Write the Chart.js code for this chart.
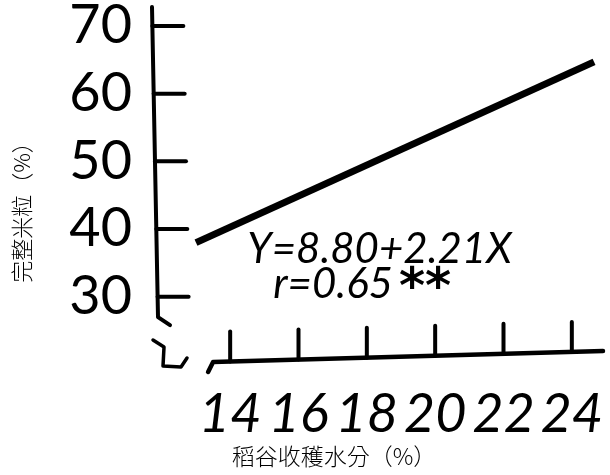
<!DOCTYPE html>
<html>
<head>
<meta charset="utf-8">
<script src="https://cdn.jsdelivr.net/npm/chart.js@4"></script>
<style>
  html, body { margin: 0; padding: 0; background: #fff; }
  #wrap { width: 610px; height: 475px; }
</style>
</head>
<body>
<div id="wrap"><canvas id="c" width="610" height="475"></canvas></div>
<script>
// Harvest moisture (%) vs. whole-kernel ratio (%)
const moistureTicks = [14, 16, 18, 20, 22, 24];
const wholeKernelTicks = [30, 40, 50, 60, 70];
const fitLineX = [13.0, 24.65];
const fitLineY = [38.0, 64.7];
const equationLabel = 'Y=8.80+2.21X';
const corrLabel = 'r=0.65';
const signifLabel = '**';
const xTitle = '稻谷收穫水分（%）';
const yTitle = '完整米粒（%）';

const INK = '#000';
const LETTERING = 'Lato';

// Hand-lettered axis frame: ticks point inward, axes with small break marks
const inkFrame = {
  id: 'inkFrame',
  afterDraw(chart) {
    const { ctx, chartArea: a, scales: { x, y } } = chart;
    ctx.save();
    ctx.strokeStyle = INK;
    ctx.fillStyle = INK;
    ctx.lineCap = 'round';
    ctx.lineJoin = 'round';

    // vertical axis (slightly leaning)
    const yTop = a.top;
    const yBot = y.getPixelForValue(27.0);
    const axX = py => a.left - 3 + (py - yTop) / (yBot - yTop) * 6;
    ctx.lineWidth = 4;
    ctx.beginPath();
    ctx.moveTo(axX(yTop), yTop);
    ctx.lineTo(axX(yBot), yBot);
    ctx.lineTo(axX(yBot) + 12, yBot + 8);
    ctx.stroke();
    wholeKernelTicks.forEach(v => {
      const py = y.getPixelForValue(v);
      ctx.beginPath();
      ctx.moveTo(axX(py), py);
      ctx.lineTo(axX(py) + 31, py);
      ctx.stroke();
    });

    // axis break mark
    ctx.lineWidth = 3.5;
    ctx.beginPath();
    ctx.moveTo(a.left - 2, yBot + 23);
    ctx.lineTo(a.left + 9, yBot + 30);
    ctx.lineTo(a.left + 8, yBot + 49);
    ctx.lineTo(a.left + 26, yBot + 50);
    ctx.lineTo(a.left + 32, yBot + 41);
    ctx.stroke();

    // horizontal axis (slightly rising)
    const xL = x.getPixelForValue(13.5);
    const xR = a.right - 3;
    const axY = px => a.bottom + 5 - (px - xL) / (xR - xL) * 11;
    ctx.lineWidth = 4.5;
    ctx.beginPath();
    ctx.moveTo(xL - 5, axY(xL) + 10);
    ctx.lineTo(xL, axY(xL));
    ctx.lineTo(xR, axY(xR));
    ctx.stroke();
    ctx.lineWidth = 4;
    moistureTicks.forEach(v => {
      const px = x.getPixelForValue(v);
      ctx.beginPath();
      ctx.moveTo(px, axY(px));
      ctx.lineTo(px, axY(px) - 30);
      ctx.stroke();
    });

    // regression equation
    ctx.textAlign = 'left';
    ctx.textBaseline = 'alphabetic';
    ctx.font = 'italic 400 42px "' + LETTERING + '"';
    ctx.fillText(equationLabel, x.getPixelForValue(14.5), y.getPixelForValue(35.0));
    const rx = x.getPixelForValue(15.26);
    const ry = y.getPixelForValue(29.85);
    ctx.fillText(corrLabel, rx, ry);
    const rw = ctx.measureText(corrLabel).width;
    ctx.font = 'bold 50px "DejaVu Sans"';
    ctx.fillText(signifLabel, rx + rw + 6, ry + 5);

    // axis titles
    ctx.textAlign = 'center';
    ctx.textBaseline = 'middle';
    ctx.font = '300 23px "Noto Sans CJK TC"';
    ctx.fillText(xTitle, 334, 456);
    ctx.translate(22, 207);
    ctx.rotate(-Math.PI / 2);
    ctx.font = '300 22px "Noto Sans CJK TC"';
    ctx.fillText(yTitle, 0, 0);
    ctx.restore();
  }
};

// keep the plot area fixed: no extra room reserved for overhanging labels
const noOverhang = s => {
  s.paddingTop = 0; s.paddingBottom = 0;
  s.paddingLeft = 0; s.paddingRight = 0;
};

new Chart(document.getElementById('c'), {
  type: 'scatter',
  data: {
    datasets: [{
      data: fitLineX.map((v, i) => ({ x: v, y: fitLineY[i] })),
      showLine: true,
      borderColor: INK,
      borderWidth: 7,
      borderCapStyle: 'butt',
      pointRadius: 0,
      pointHoverRadius: 0
    }]
  },
  options: {
    responsive: false,
    animation: false,
    events: [],
    layout: { padding: { top: 7, right: 4, left: 0, bottom: 0 } },
    plugins: { legend: { display: false }, tooltip: { enabled: false } },
    scales: {
      x: {
        type: 'linear',
        min: 11.8,
        max: 25,
        grid: { display: false },
        border: { display: false },
        afterBuildTicks: s => { s.ticks = moistureTicks.map(v => ({ value: v })); },
        afterFit: s => { s.height = 118; noOverhang(s); },
        ticks: {
          color: INK,
          padding: 17,
          maxRotation: 0,
          autoSkip: false,
          font: { family: LETTERING, size: 54, style: 'italic', weight: 400 }
        }
      },
      y: {
        min: 21.1,
        max: 72.8,
        grid: { display: false },
        border: { display: false },
        afterBuildTicks: s => { s.ticks = wholeKernelTicks.map(v => ({ value: v })); },
        afterFit: s => { s.width = 155; noOverhang(s); },
        ticks: {
          color: INK,
          padding: 15,
          autoSkip: false,
          font: { family: LETTERING, size: 54, weight: 400 }
        }
      }
    }
  },
  plugins: [inkFrame]
});
</script>
</body>
</html>
